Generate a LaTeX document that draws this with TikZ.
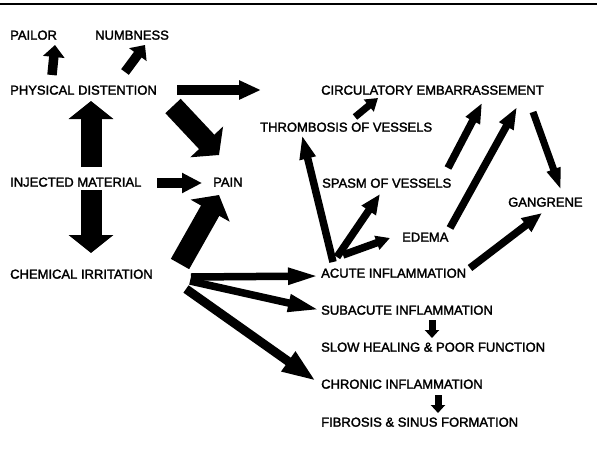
\documentclass[tikz,border=0pt]{standalone}
\usepackage{fontspec}
\setmainfont{Liberation Sans}[FakeBold=2]
\usetikzlibrary{arrows.meta, calc}

\begin{document}
\begin{tikzpicture}[
        x=1pt, y=-1pt,
        term/.style={anchor=west, inner sep=0pt, text height=9.3pt, text depth=0pt, font=\fontsize{13}{13}\selectfont},
        bigarrow/.style={line width=21pt, -{Triangle[width=44pt,length=18pt]}},
        midarrow/.style={line width=9.5pt, -{Triangle[width=21pt,length=12pt]}},
        thinarrow/.style={line width=7.5pt, -{Triangle[width=15pt,length=24pt]}},
        smallarrow/.style={line width=7pt, -{Triangle[width=14pt,length=8pt]}}
    ]
        \useasboundingbox (0,0) rectangle (597,469);
        \draw[line width=2pt] (0,4) -- (597,4);

        % Nodes
        \node[term] (pailor) at (10,35) {PAILOR};
        \node[term] (numb) at (95,35) {NUMBNESS};
        \node[term] (phys) at (10,90) {PHYSICAL DISTENTION};
        \node[term] (inj) at (10,182) {INJECTED MATERIAL};
        \node[term] (pain) at (213,182) {PAIN};
        \node[term] (chem) at (10,274) {CHEMICAL IRRITATION};

        \node[term] (circ) at (321,90) {CIRCULATORY EMBARRASSEMENT};
        \node[term] (thromb) at (260,127) {THROMBOSIS OF VESSELS};
        \node[term] (spasm) at (322,183) {SPASM OF VESSELS};
        \node[term] (gang) at (508,202) {GANGRENE};
        \node[term] (edema) at (402,237) {EDEMA};
        \node[term] (acute) at (321,273) {ACUTE INFLAMMATION};
        \node[term] (subac) at (321,310) {SUBACUTE INFLAMMATION};
        \node[term] (slow) at (321,347) {SLOW HEALING \& POOR FUNCTION};
        \node[term] (chron) at (321,384) {CHRONIC INFLAMMATION};
        \node[term] (fib) at (321,422) {FIBROSIS \& SINUS FORMATION};

        % Arrows
        \draw[midarrow] ($(phys.west)+(42,-15)$) -- ($(pailor.west)+(45,10)$);
        \draw[midarrow] ($(phys.west)+(115,-18)$) -- ($(numb.west)+(50,10)$);
        \draw[midarrow, -{Triangle[width=18pt,length=22pt]}] ($(phys.west)+(167,0)$) -- ($(circ.west)+(-60,0)$);
        \draw[bigarrow] ($(phys.west)+(163,16)$) -- ($(pain.west)+(6,-27)$);

        \draw[bigarrow] ($(inj.west)+(81,-15)$) -- ($(phys.west)+(81,11)$);
        \draw[bigarrow] ($(inj.west)+(81,8)$) -- ($(chem.west)+(81,-21)$);
        \draw[midarrow, -{Triangle[width=19pt,length=20pt]}] ($(inj.west)+(147,1)$) -- ($(pain.west)+(-11,1)$);
        \draw[bigarrow] ($(chem.west)+(170,-10)$) -- ($(pain.west)+(6,13)$);

        \draw[thinarrow, -{Triangle[width=15pt,length=32pt]}] ($(chem.west)+(181,3)$) -- ($(acute.west)+(-1,3)$);
        \draw[thinarrow, -{Triangle[width=16pt,length=32pt]}] ($(chem.west)+(180,7)$) -- ($(subac.west)+(-1,0)$);
        \draw[thinarrow, line width=9pt, -{Triangle[width=22pt,length=34pt]}] ($(chem.west)+(176,15)$) -- ($(chron.west)+(-5,-3)$);

        \draw[thinarrow] ($(acute.west)+(12,-11)$) -- ($(thromb.west)+(42,8)$);
        \draw[thinarrow, -{Triangle[width=16pt,length=20pt]}] ($(acute.west)+(16,-16)$) -- ($(spasm.west)+(58,11)$);
        \draw[thinarrow, -{Triangle[width=14pt,length=14pt]}] ($(acute.west)+(22,-18)$) -- ($(edema.west)+(-12,1)$);
        \draw[thinarrow, -{Triangle[width=16pt,length=20pt]}] ($(acute.west)+(149,-5)$) -- ($(gang.west)+(34,11)$);

        \draw[thinarrow, -{Triangle[width=15pt,length=20pt]}] ($(spasm.west)+(126,-15)$) -- ($(circ.west)+(161,13)$);
        \draw[thinarrow, -{Triangle[width=15pt,length=22pt]}] ($(edema.west)+(48,-9)$) -- ($(circ.west)+(196,17)$);
        \draw[thinarrow, line width=7pt, -{Triangle[width=13pt,length=22pt]}] ($(circ.west)+(212,22)$) -- ($(gang.west)+(53,-12)$);
        \draw[smallarrow, -{Triangle[width=15pt,length=12pt]}] ($(thromb.west)+(95,-10)$) -- ($(circ.west)+(57,8)$);

        \draw[smallarrow] ($(subac.west)+(111,10)$) -- ($(slow.west)+(111,-9)$);
        \draw[smallarrow] ($(chron.west)+(117,11)$) -- ($(fib.west)+(117,-9)$);

    \end{tikzpicture}
\end{document}
